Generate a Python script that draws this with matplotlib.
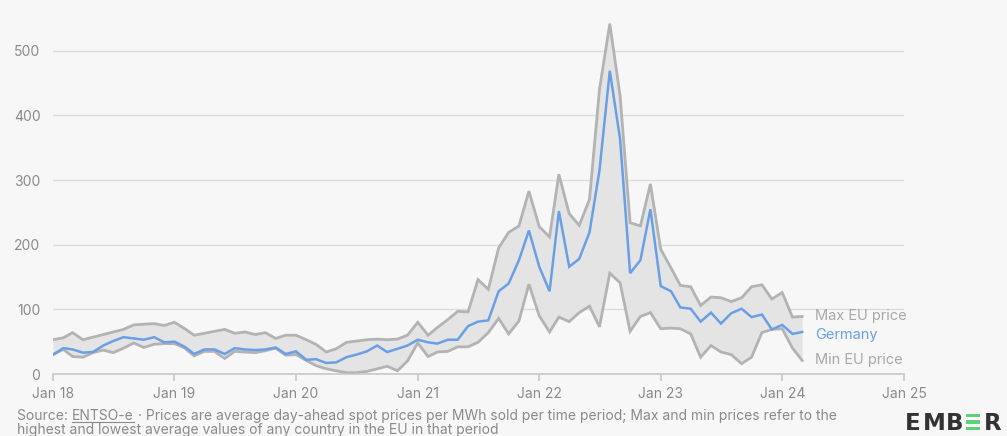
import matplotlib
matplotlib.use("Agg")
import matplotlib.pyplot as plt
import matplotlib.patches as mpatches
import pandas as pd

# ---- data (monthly, Jan 2018 - Mar 2024), EUR/MWh ----
months = pd.date_range("2018-01-01", periods=75, freq="MS")

max_eu = [53, 56, 64, 53, 57, 61, 65, 69, 76, 77, 78, 75,
          80, 70, 60, 63, 66, 69, 63, 65, 61, 64, 55, 60,
          60, 53, 46, 34, 39, 49, 51, 53, 54, 53, 54, 60,
          80, 60, 72, 84, 97, 96, 146, 131, 195, 219, 229, 283,
          228, 212, 309, 248, 230, 270, 440, 542, 430, 234, 229, 294,
          193, 164, 137, 135, 106, 119, 118, 112, 118, 135, 138, 116,
          126, 88, 89]

min_eu = [30, 38, 27, 26, 33, 37, 33, 40, 48, 41, 46, 47,
          47, 40, 28, 35, 35, 24, 35, 34, 33, 36, 40, 29,
          30, 21, 13, 8, 5, 2, 2, 4, 8, 12, 5, 20,
          48, 27, 34, 35, 42, 42, 49, 64, 86, 62, 82, 139,
          90, 65, 88, 81, 95, 105, 73, 156, 141, 66, 89, 95,
          70, 71, 70, 62, 26, 44, 34, 30, 16, 26, 64, 69,
          70, 40, 21]

germany = [30, 40, 38, 33, 34, 44, 51, 57, 55, 53, 57, 49,
           50, 42, 31, 38, 38, 31, 40, 38, 37, 38, 41, 31,
           35, 22, 23, 17, 18, 26, 30, 35, 44, 34, 39, 44,
           53, 49, 47, 53, 53, 74, 81, 83, 128, 140, 176, 222,
           166, 128, 252, 166, 178, 219, 315, 469, 363, 156, 176, 255,
           136, 128, 103, 101, 81, 95, 78, 94, 101, 88, 92, 69,
           76, 62, 65]

y_ticks = [0, 100, 200, 300, 400, 500]
x_tick_years = list(range(2018, 2026))
x_tick_labels = ["Jan 18", "Jan 19", "Jan 20", "Jan 21", "Jan 22", "Jan 23", "Jan 24", "Jan 25"]

# ---- style ----
BG = "#f7f7f7"
GRAY_LINE = "#b3b3b3"
FILL = "#e4e4e4"
BLUE = "#6a9fe6"
TXT = "#8a8a8a"
LBL = "#a8a8a8"
FONT = ["Inter", "DejaVu Sans"]
plt.rcParams["font.family"] = FONT

W, H = 1007, 436
fig = plt.figure(figsize=(W / 100, H / 100), dpi=100, facecolor=BG)
ax = fig.add_axes([53 / W, 1 - 374 / H, (904 - 53) / W, (374 - 12) / H])
ax.set_facecolor(BG)

ax.fill_between(months, min_eu, max_eu, color=FILL, lw=0, zorder=1)
ax.plot(months, max_eu, color=GRAY_LINE, lw=2.0, zorder=2, solid_joinstyle="miter")
ax.plot(months, min_eu, color=GRAY_LINE, lw=2.0, zorder=2, solid_joinstyle="miter")
ax.plot(months, germany, color=BLUE, lw=1.8, zorder=3, solid_joinstyle="miter")

ax.set_ylim(0, 560)
ax.set_xlim(pd.Timestamp("2018-01-01"), pd.Timestamp("2025-01-01"))
ax.set_yticks(y_ticks)
ax.set_yticklabels([str(v) for v in y_ticks])
ax.set_xticks([pd.Timestamp(f"{y}-01-01") for y in x_tick_years])
ax.set_xticklabels(x_tick_labels)

for v in y_ticks[1:]:
    ax.axhline(v, color="#dcdcdc", lw=1.0, zorder=0)

for s in ["top", "right", "left"]:
    ax.spines[s].set_visible(False)
ax.spines["bottom"].set_color("#c8c8c8")
ax.spines["bottom"].set_linewidth(1.2)
ax.tick_params(axis="y", length=0, pad=9, labelcolor=TXT, labelsize=10)
ax.tick_params(axis="x", length=5, width=1.2, color="#c8c8c8", pad=4, labelcolor=TXT, labelsize=10)

# series labels
last = months[-1]
ax.annotate("Max EU price", (last, max_eu[-1]), xytext=(9, 0), textcoords="offset points",
            va="center", ha="left", color=LBL, fontsize=10.5)
ax.annotate("Germany", (last, germany[-1]), xytext=(9, -2), textcoords="offset points",
            va="center", ha="left", color=BLUE, fontsize=10.5)
ax.annotate("Min EU price", (last, min_eu[-1]), xytext=(9, 0), textcoords="offset points",
            va="center", ha="left", color=LBL, fontsize=10.5)

# footer
fs = 10
fy1 = 1 - 416 / H
fy2 = 1 - 430 / H
t0 = fig.text(17 / W, fy1, "Source: ", color=TXT, fontsize=fs, va="center", ha="left")
fig.canvas.draw()
r = fig.canvas.get_renderer()
bb = t0.get_window_extent(r)
x1 = bb.x1 / fig.bbox.width
t1 = fig.text(x1, fy1, "ENTSO-e", color=TXT, fontsize=fs, va="center", ha="left")
bb1 = t1.get_window_extent(r)
x2 = bb1.x1 / fig.bbox.width
fig.add_artist(plt.Line2D([x1, x2], [bb1.y0 / fig.bbox.height + 0.003] * 2, color=TXT, lw=0.8,
                          transform=fig.transFigure))
fig.text(x2, fy1, " · Prices are average day-ahead spot prices per MWh sold per time period; Max and min prices refer to the",
         color=TXT, fontsize=fs, va="center", ha="left")
fig.text(17 / W, fy2, "highest and lowest average values of any country in the EU in that period",
         color=TXT, fontsize=fs, va="center", ha="left")

# logo
LOGO = "#333333"
GREEN = "#5fd17a"
base = 1 - 430 / H
lfam = ["DejaVu Sans"]
for ch, px in [("E", 905), ("M", 923), ("B", 946), ("R", 984)]:
    fig.text(px / W, base, ch, color=LOGO, fontsize=16.5, fontweight="bold",
             va="baseline", ha="left", family=lfam)
for top in [413.5, 420.2, 426.9]:
    fig.add_artist(mpatches.Rectangle((966 / W, 1 - (top + 3.3) / H), 14 / W, 3.3 / H,
                                      transform=fig.transFigure, color=GREEN, lw=0))

fig.savefig("out.png", dpi=100, facecolor=BG)
